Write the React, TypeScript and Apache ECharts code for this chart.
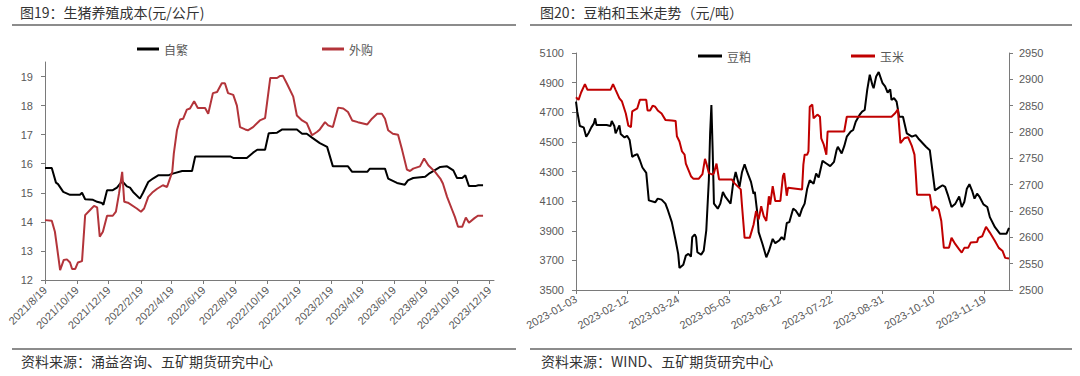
import React, { useEffect, useRef } from 'react';
import * as echarts from 'echarts';

// ---------- Left chart: 生猪养殖成本 (元/公斤) ----------
const pigTickDates = [
  '2021-08-19', '2021-10-19', '2021-12-19', '2022-02-19', '2022-04-19', '2022-06-19', '2022-08-19',
  '2022-10-19', '2022-12-19', '2023-02-19', '2023-04-19', '2023-06-19', '2023-08-19', '2023-10-19', '2023-12-19',
];
const pigCostTicks = [12, 13, 14, 15, 16, 17, 18, 19];

const selfBredCost: [string, number][] = [
  ['2021-08-19', 15.85], ['2021-09-01', 15.85], ['2021-09-09', 15.35], ['2021-09-13', 15.3], ['2021-09-23', 15.03],
  ['2021-10-06', 14.93], ['2021-10-25', 14.93], ['2021-10-29', 15.0], ['2021-11-04', 14.78], ['2021-11-19', 14.76],
  ['2021-11-27', 14.69], ['2021-12-06', 14.65], ['2021-12-09', 14.59], ['2021-12-16', 15.09], ['2021-12-27', 15.09],
  ['2022-01-04', 15.18], ['2022-01-14', 15.4], ['2022-01-23', 15.22], ['2022-01-29', 15.18], ['2022-02-04', 15.03],
  ['2022-02-17', 14.8], ['2022-02-23', 15.0], ['2022-03-05', 15.37], ['2022-03-14', 15.49], ['2022-03-24', 15.6],
  ['2022-04-12', 15.6], ['2022-04-21', 15.66], ['2022-05-09', 15.75], ['2022-05-28', 15.75], ['2022-06-03', 16.25],
  ['2022-08-09', 16.25], ['2022-08-15', 16.2], ['2022-09-10', 16.2], ['2022-09-22', 16.38], ['2022-09-30', 16.48],
  ['2022-10-15', 16.48], ['2022-10-22', 17.05], ['2022-11-07', 17.07], ['2022-11-17', 17.18], ['2022-12-15', 17.18],
  ['2022-12-25', 17.03], ['2023-01-03', 17.03], ['2023-01-13', 16.9], ['2023-01-28', 16.71], ['2023-02-11', 16.58],
  ['2023-02-22', 15.91], ['2023-03-23', 15.91], ['2023-03-31', 15.72], ['2023-04-29', 15.72], ['2023-05-04', 15.83],
  ['2023-06-02', 15.83], ['2023-06-08', 15.49], ['2023-06-25', 15.34], ['2023-07-10', 15.28], ['2023-07-16', 15.43],
  ['2023-07-26', 15.51], ['2023-08-18', 15.55], ['2023-08-27', 15.68], ['2023-09-16', 15.89], ['2023-09-29', 15.91],
  ['2023-10-11', 15.77], ['2023-10-18', 15.51], ['2023-10-28', 15.51], ['2023-11-03', 15.6], ['2023-11-10', 15.23],
  ['2023-11-22', 15.23], ['2023-11-28', 15.26], ['2023-12-07', 15.26],
];

const purchasedCost: [string, number][] = [
  ['2021-08-19', 14.06], ['2021-09-01', 14.04], ['2021-09-07', 13.66], ['2021-09-11', 13.14], ['2021-09-17', 12.34],
  ['2021-09-24', 12.69], ['2021-09-30', 12.71], ['2021-10-06', 12.6], ['2021-10-10', 12.38], ['2021-10-16', 12.38],
  ['2021-10-21', 12.6], ['2021-10-29', 12.65], ['2021-11-04', 14.23], ['2021-11-13', 14.4], ['2021-11-21', 14.55],
  ['2021-11-27', 14.5], ['2021-12-02', 13.49], ['2021-12-08', 13.66], ['2021-12-16', 14.21], ['2021-12-27', 14.21],
  ['2022-01-02', 14.35], ['2022-01-08', 14.98], ['2022-01-14', 15.72], ['2022-01-18', 14.69], ['2022-01-25', 14.66],
  ['2022-02-11', 14.46], ['2022-02-19', 14.35], ['2022-02-25', 14.46], ['2022-03-05', 14.86], ['2022-03-14', 15.03],
  ['2022-03-22', 15.14], ['2022-04-02', 15.26], ['2022-04-10', 15.2], ['2022-04-20', 15.72], ['2022-04-23', 16.35],
  ['2022-04-29', 17.15], ['2022-05-05', 17.52], ['2022-05-11', 17.55], ['2022-05-18', 17.86], ['2022-05-24', 17.9],
  ['2022-06-01', 18.15], ['2022-06-08', 17.92], ['2022-06-22', 17.92], ['2022-06-28', 17.72], ['2022-07-07', 18.43],
  ['2022-07-15', 18.47], ['2022-07-24', 18.77], ['2022-07-30', 18.77], ['2022-08-05', 18.43], ['2022-08-15', 18.37],
  ['2022-08-22', 18.0], ['2022-08-28', 17.26], ['2022-09-07', 17.18], ['2022-09-12', 17.15], ['2022-09-22', 17.26],
  ['2022-10-05', 17.49], ['2022-10-15', 17.57], ['2022-10-25', 18.95], ['2022-11-07', 18.95], ['2022-11-13', 19.02],
  ['2022-11-18', 19.03], ['2022-11-26', 18.75], ['2022-12-08', 18.31], ['2022-12-15', 17.66], ['2022-12-25', 17.49],
  ['2023-01-03', 17.4], ['2023-01-13', 16.98], ['2023-01-23', 17.1], ['2023-01-28', 17.18], ['2023-02-07', 17.43],
  ['2023-02-13', 17.32], ['2023-02-22', 17.26], ['2023-03-04', 17.93], ['2023-03-14', 17.9], ['2023-03-23', 17.78],
  ['2023-03-31', 17.49], ['2023-04-11', 17.43], ['2023-04-29', 17.35], ['2023-05-08', 17.55], ['2023-05-18', 17.72],
  ['2023-05-27', 17.72], ['2023-06-02', 17.55], ['2023-06-08', 17.15], ['2023-06-17', 17.03], ['2023-06-27', 17.0],
  ['2023-07-05', 16.46], ['2023-07-14', 15.8], ['2023-07-20', 15.75], ['2023-07-26', 15.83], ['2023-08-08', 15.91],
  ['2023-08-16', 16.18], ['2023-08-24', 15.95], ['2023-09-06', 15.72], ['2023-09-16', 15.49], ['2023-09-21', 15.32],
  ['2023-09-29', 14.86], ['2023-10-09', 14.4], ['2023-10-14', 14.17], ['2023-10-20', 13.83], ['2023-10-28', 13.83],
  ['2023-11-04', 14.15], ['2023-11-10', 13.97], ['2023-11-20', 14.12], ['2023-11-27', 14.21], ['2023-12-07', 14.21],
];

// ---------- Right chart: 豆粕和玉米走势 (元/吨) ----------
const feedTickDates = [
  '2023-01-03', '2023-02-12', '2023-03-24', '2023-05-03', '2023-06-12', '2023-07-22', '2023-08-31', '2023-10-10', '2023-11-19',
];
const mealTicks = [3500, 3700, 3900, 4100, 4300, 4500, 4700, 4900, 5100];
const cornTicks = [2500, 2550, 2600, 2650, 2700, 2750, 2800, 2850, 2900, 2950];

const soybeanMeal: [string, number][] = [
  ['2023-01-03', 4772], ['2023-01-04', 4704], ['2023-01-06', 4607], ['2023-01-09', 4598], ['2023-01-11', 4535],
  ['2023-01-13', 4562], ['2023-01-15', 4598], ['2023-01-17', 4625], ['2023-01-18', 4659], ['2023-01-19', 4614],
  ['2023-01-27', 4614], ['2023-01-30', 4607], ['2023-01-31', 4641], ['2023-02-02', 4607], ['2023-02-03', 4557],
  ['2023-02-06', 4611], ['2023-02-07', 4553], ['2023-02-10', 4530], ['2023-02-12', 4541], ['2023-02-14', 4512],
  ['2023-02-16', 4399], ['2023-02-18', 4410], ['2023-02-20', 4417], ['2023-02-22', 4376], ['2023-02-24', 4327],
  ['2023-02-27', 4291], ['2023-03-01', 4105], ['2023-03-06', 4092], ['2023-03-08', 4117], ['2023-03-11', 4110],
  ['2023-03-14', 4083], ['2023-03-16', 4037], ['2023-03-19', 3958], ['2023-03-22', 3834], ['2023-03-24', 3744],
  ['2023-03-25', 3649], ['2023-03-28', 3671], ['2023-03-30', 3732], ['2023-04-01', 3744], ['2023-04-03', 3725],
  ['2023-04-04', 3857], ['2023-04-06', 3875], ['2023-04-07', 3857], ['2023-04-08', 3755], ['2023-04-11', 3739],
  ['2023-04-13', 3766], ['2023-04-15', 3902], ['2023-04-17', 4241], ['2023-04-18', 4557], ['2023-04-19', 4749],
  ['2023-04-20', 4444], ['2023-04-21', 4083], ['2023-04-24', 4049], ['2023-04-26', 4083], ['2023-04-28', 4162],
  ['2023-04-30', 4128], ['2023-05-04', 4083], ['2023-05-06', 4218], ['2023-05-08', 4297], ['2023-05-11', 4196],
  ['2023-05-13', 4297], ['2023-05-15', 4349], ['2023-05-17', 4297], ['2023-05-20', 4230], ['2023-05-22', 4150],
  ['2023-05-23', 4162], ['2023-05-25', 4015], ['2023-05-26', 3891], ['2023-05-29', 3811], ['2023-06-01', 3721],
  ['2023-06-03', 3762], ['2023-06-06', 3845], ['2023-06-08', 3816], ['2023-06-11', 3834], ['2023-06-13', 3857],
  ['2023-06-15', 3839], ['2023-06-17', 3952], ['2023-06-19', 3958], ['2023-06-22', 4049], ['2023-06-24', 4037],
  ['2023-06-27', 3997], ['2023-06-29', 4049], ['2023-07-01', 4083], ['2023-07-03', 4184], ['2023-07-05', 4241],
  ['2023-07-08', 4218], ['2023-07-10', 4286], ['2023-07-12', 4259], ['2023-07-13', 4297], ['2023-07-15', 4372],
  ['2023-07-18', 4354], ['2023-07-21', 4336], ['2023-07-24', 4365], ['2023-07-26', 4444], ['2023-07-27', 4467],
  ['2023-07-30', 4422], ['2023-08-01', 4471], ['2023-08-03', 4535], ['2023-08-06', 4569], ['2023-08-08', 4580],
  ['2023-08-10', 4636], ['2023-08-13', 4682], ['2023-08-15', 4704], ['2023-08-17', 4715], ['2023-08-19', 4851],
  ['2023-08-21', 4953], ['2023-08-23', 4885], ['2023-08-24', 4862], ['2023-08-26', 4941], ['2023-08-28', 4971],
  ['2023-08-31', 4896], ['2023-09-02', 4874], ['2023-09-04', 4833], ['2023-09-06', 4855], ['2023-09-07', 4783],
  ['2023-09-09', 4795], ['2023-09-11', 4772], ['2023-09-13', 4670], ['2023-09-16', 4670], ['2023-09-19', 4557],
  ['2023-09-23', 4535], ['2023-09-26', 4546], ['2023-09-28', 4523], ['2023-10-04', 4467], ['2023-10-07', 4444],
  ['2023-10-09', 4309], ['2023-10-11', 4173], ['2023-10-13', 4184], ['2023-10-15', 4196], ['2023-10-17', 4207],
  ['2023-10-19', 4196], ['2023-10-21', 4146], ['2023-10-24', 4060], ['2023-10-27', 4083], ['2023-10-30', 4132],
  ['2023-11-01', 4060], ['2023-11-03', 4094], ['2023-11-05', 4184], ['2023-11-07', 4214], ['2023-11-09', 4173],
  ['2023-11-11', 4117], ['2023-11-13', 4150], ['2023-11-15', 4128], ['2023-11-18', 4078], ['2023-11-21', 4060],
  ['2023-11-23', 3992], ['2023-11-27', 3924], ['2023-12-01', 3879], ['2023-12-06', 3879], ['2023-12-08', 3920],
];

const corn: [string, number][] = [
  ['2023-01-03', 2866], ['2023-01-05', 2861], ['2023-01-07', 2875], ['2023-01-10', 2891], ['2023-01-12', 2880],
  ['2023-01-30', 2880], ['2023-02-01', 2891], ['2023-02-03', 2880], ['2023-02-06', 2864], ['2023-02-08', 2858],
  ['2023-02-11', 2835], ['2023-02-13', 2812], ['2023-02-15', 2809], ['2023-02-16', 2839], ['2023-02-20', 2845],
  ['2023-02-22', 2861], ['2023-02-27', 2861], ['2023-02-28', 2841], ['2023-03-02', 2841], ['2023-03-04', 2850],
  ['2023-03-06', 2848], ['2023-03-08', 2841], ['2023-03-11', 2835], ['2023-03-14', 2823], ['2023-03-19', 2822],
  ['2023-03-22', 2821], ['2023-03-23', 2792], ['2023-03-25', 2782], ['2023-03-27', 2763], ['2023-03-29', 2757],
  ['2023-03-30', 2740], ['2023-04-03', 2716], ['2023-04-05', 2711], ['2023-04-09', 2711], ['2023-04-12', 2720],
  ['2023-04-14', 2749], ['2023-04-15', 2741], ['2023-04-17', 2722], ['2023-04-20', 2719], ['2023-04-21', 2722],
  ['2023-04-23', 2740], ['2023-04-25', 2710], ['2023-05-05', 2710], ['2023-05-07', 2703], ['2023-05-12', 2691],
  ['2023-05-13', 2659], ['2023-05-15', 2599], ['2023-05-19', 2599], ['2023-05-22', 2624], ['2023-05-24', 2650],
  ['2023-05-26', 2634], ['2023-05-28', 2659], ['2023-05-30', 2640], ['2023-06-01', 2631], ['2023-06-03', 2678],
  ['2023-06-04', 2662], ['2023-06-06', 2697], ['2023-06-08', 2669], ['2023-06-12', 2669], ['2023-06-14', 2716],
  ['2023-06-15', 2722], ['2023-06-17', 2679], ['2023-06-18', 2694], ['2023-06-29', 2691], ['2023-06-30', 2738],
  ['2023-07-01', 2757], ['2023-07-03', 2757], ['2023-07-04', 2763], ['2023-07-05', 2848], ['2023-07-07', 2852],
  ['2023-07-08', 2826], ['2023-07-11', 2833], ['2023-07-13', 2829], ['2023-07-14', 2788], ['2023-07-16', 2776],
  ['2023-07-18', 2757], ['2023-07-19', 2801], ['2023-08-01', 2801], ['2023-08-03', 2829], ['2023-09-07', 2829],
  ['2023-09-10', 2836], ['2023-09-12', 2843], ['2023-09-14', 2779], ['2023-09-17', 2788], ['2023-09-20', 2790],
  ['2023-09-23', 2773], ['2023-09-25', 2757], ['2023-09-26', 2722], ['2023-09-27', 2681], ['2023-10-07', 2681],
  ['2023-10-09', 2650], ['2023-10-11', 2659], ['2023-10-14', 2653], ['2023-10-16', 2631], ['2023-10-18', 2580],
  ['2023-10-22', 2580], ['2023-10-24', 2599], ['2023-10-27', 2587], ['2023-10-30', 2577], ['2023-11-01', 2571],
  ['2023-11-03', 2580], ['2023-11-06', 2580], ['2023-11-08', 2590], ['2023-11-13', 2591], ['2023-11-14', 2599],
  ['2023-11-17', 2602], ['2023-11-20', 2620], ['2023-11-23', 2609], ['2023-11-27', 2593], ['2023-11-30', 2580],
  ['2023-12-03', 2574], ['2023-12-05', 2561], ['2023-12-08', 2560],
];

const ts = (s: string) => {
  const [y, m, d] = s.split('-').map(Number);
  return new Date(y, m - 1, d).getTime();
};
const toPts = (arr: [string, number][]) => arr.map(([d, v]) => [ts(d), v]);
const pad = (n: number) => (n < 10 ? '0' + n : '' + n);
const plain = (v: number) => String(v);

const AXIS_COLOR = '#7a7a7a';
const LABEL_COLOR = '#595959';
const LABEL_FONT = '"Liberation Sans", Arial, sans-serif';
const CJK_FONT = '"Noto Sans CJK SC", "Noto Sans", sans-serif';

export default function App() {
  const ref = useRef<HTMLDivElement>(null);

  useEffect(() => {
    if (!ref.current) return;
    const chart = echarts.init(ref.current, null, { renderer: 'svg' });

    const pigTicks = pigTickDates.map(ts);
    const feedTicks = feedTickDates.map(ts);

    const option: any = {
      animation: false,
      backgroundColor: '#ffffff',
      textStyle: { fontFamily: LABEL_FONT },
      legend: [
        {
          data: ['自繁', '外购'],
          left: 132,
          top: 38,
          itemWidth: 22,
          itemHeight: 3,
          itemGap: 134,
          icon: 'rect',
          textStyle: { color: LABEL_COLOR, fontSize: 12, fontFamily: CJK_FONT },
        },
        {
          data: ['豆粕', '玉米'],
          left: 693,
          top: 45,
          itemWidth: 24,
          itemHeight: 3,
          itemGap: 100,
          icon: 'rect',
          textStyle: { color: LABEL_COLOR, fontSize: 12, fontFamily: CJK_FONT },
        },
      ],
      grid: [
        { left: 45, right: 1080 - 494, top: 62, bottom: 376 - 280, containLabel: false },
        { left: 576, right: 1080 - 1009, top: 53, bottom: 376 - 290, containLabel: false },
      ],
      xAxis: [
        {
          type: 'value',
          gridIndex: 0,
          min: ts('2021-08-19'),
          max: ts('2023-12-28'),
          axisLine: { show: true, onZero: false, lineStyle: { color: AXIS_COLOR, width: 1 } },
          axisTick: { show: true, customValues: pigTicks, length: 4, lineStyle: { color: AXIS_COLOR } },
          splitLine: { show: false },
          axisLabel: {
            customValues: pigTicks,
            rotate: 45,
            margin: 8,
            fontSize: 11,
            color: LABEL_COLOR,
            fontFamily: LABEL_FONT,
            formatter: (v: number) => {
              const d = new Date(v);
              return `${d.getFullYear()}/${d.getMonth() + 1}/${d.getDate()}`;
            },
          },
        },
        {
          type: 'value',
          gridIndex: 1,
          min: ts('2023-01-03'),
          max: ts('2023-12-08'),
          axisLine: { show: true, onZero: false, lineStyle: { color: AXIS_COLOR, width: 1 } },
          axisTick: { show: true, customValues: feedTicks, length: 4, lineStyle: { color: AXIS_COLOR } },
          splitLine: { show: false },
          axisLabel: {
            customValues: feedTicks,
            rotate: 30,
            margin: 8,
            fontSize: 11,
            color: LABEL_COLOR,
            fontFamily: LABEL_FONT,
            formatter: (v: number) => {
              const d = new Date(v);
              return `${d.getFullYear()}-${pad(d.getMonth() + 1)}-${pad(d.getDate())}`;
            },
          },
        },
      ],
      yAxis: [
        {
          type: 'value',
          gridIndex: 0,
          min: 12,
          max: 19.5,
          axisLine: { show: true, lineStyle: { color: AXIS_COLOR, width: 1 } },
          axisTick: { show: true, customValues: pigCostTicks, length: 4, lineStyle: { color: AXIS_COLOR } },
          splitLine: { show: false },
          axisLabel: { customValues: pigCostTicks, formatter: plain, margin: 12, fontSize: 11, color: LABEL_COLOR, fontFamily: LABEL_FONT },
        },
        {
          type: 'value',
          gridIndex: 1,
          min: 3500,
          max: 5100,
          axisLine: { show: true, lineStyle: { color: AXIS_COLOR, width: 1 } },
          axisTick: { show: true, customValues: mealTicks, length: 4, lineStyle: { color: AXIS_COLOR } },
          splitLine: { show: false },
          axisLabel: { customValues: mealTicks, formatter: plain, margin: 12, fontSize: 11, color: LABEL_COLOR, fontFamily: LABEL_FONT },
        },
        {
          type: 'value',
          gridIndex: 1,
          position: 'right',
          min: 2500,
          max: 2950,
          axisLine: { show: true, lineStyle: { color: AXIS_COLOR, width: 1 } },
          axisTick: { show: true, customValues: cornTicks, length: 4, lineStyle: { color: AXIS_COLOR } },
          splitLine: { show: false },
          axisLabel: { customValues: cornTicks, formatter: plain, margin: 10, fontSize: 11, color: LABEL_COLOR, fontFamily: LABEL_FONT },
        },
      ],
      series: [
        {
          name: '自繁', type: 'line', xAxisIndex: 0, yAxisIndex: 0, data: toPts(selfBredCost),
          showSymbol: false, symbol: 'none', color: '#000000', lineStyle: { width: 2, color: '#000000' },
        },
        {
          name: '外购', type: 'line', xAxisIndex: 0, yAxisIndex: 0, data: toPts(purchasedCost),
          showSymbol: false, symbol: 'none', color: '#b3343a', lineStyle: { width: 2, color: '#b3343a' },
        },
        {
          name: '豆粕', type: 'line', xAxisIndex: 1, yAxisIndex: 1, data: toPts(soybeanMeal),
          showSymbol: false, symbol: 'none', color: '#000000', lineStyle: { width: 2, color: '#000000' },
        },
        {
          name: '玉米', type: 'line', xAxisIndex: 1, yAxisIndex: 2, data: toPts(corn),
          showSymbol: false, symbol: 'none', color: '#c00000', lineStyle: { width: 2, color: '#c00000' },
        },
      ],
      graphic: [
        { type: 'text', left: 20, top: 5, style: { text: '图19：生猪养殖成本(元/公斤)', fill: '#333333', font: `14px ${CJK_FONT}` } },
        { type: 'text', left: 540, top: 5, style: { text: '图20：豆粕和玉米走势（元/吨）', fill: '#333333', font: `14px ${CJK_FONT}` } },
        { type: 'line', shape: { x1: 12, y1: 25, x2: 516, y2: 25 }, style: { stroke: '#8c8c8c', lineWidth: 2 } },
        { type: 'line', shape: { x1: 530, y1: 25, x2: 1072, y2: 25 }, style: { stroke: '#8c8c8c', lineWidth: 2 } },
        { type: 'line', shape: { x1: 12, y1: 349, x2: 516, y2: 349 }, style: { stroke: '#8c8c8c', lineWidth: 2 } },
        { type: 'line', shape: { x1: 530, y1: 349, x2: 1072, y2: 349 }, style: { stroke: '#8c8c8c', lineWidth: 2 } },
        { type: 'text', left: 21, top: 354, style: { text: '资料来源：涌益咨询、五矿期货研究中心', fill: '#333333', font: `14px ${CJK_FONT}` } },
        { type: 'text', left: 541, top: 354, style: { text: '资料来源：WIND、五矿期货研究中心', fill: '#333333', font: `14px ${CJK_FONT}` } },
      ],
    };

    chart.setOption(option);
    return () => chart.dispose();
  }, []);

  return (
    <div
      ref={ref}
      style={{ position: 'absolute', left: 0, top: 0, width: 1080, height: 376, background: '#ffffff' }}
    />
  );
}
